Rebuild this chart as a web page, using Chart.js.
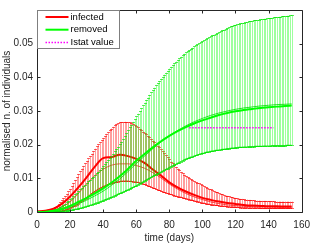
<!DOCTYPE html>
<html>
<head>
<meta charset="utf-8">
<script src="https://cdn.jsdelivr.net/npm/chart.js@4.4.1/dist/chart.umd.min.js"></script>
<style>
  html, body { margin: 0; padding: 0; background: #fff; }
  canvas { display: block; }
</style>
</head>
<body>
<canvas id="chart" width="317" height="244"></canvas>
<script>
// --- Data ---
const seriesLabels = ['infected', 'removed', 'Istat value'];

// daily samples used for the error bars (day 0 .. 154)
const errDays = Array.from({ length: 155 }, (_, i) => i);

const infectedHigh = [
    0.0003, 0.0003, 0.0004, 0.0004, 0.0005, 0.0006, 0.0007, 0.0008, 0.0009, 0.0010, 0.0012,
    0.0015, 0.0019, 0.0024, 0.0029, 0.0035, 0.0041, 0.0047, 0.0054, 0.0061, 0.0068,
    0.0077, 0.0086, 0.0095, 0.0104, 0.0113, 0.0121, 0.0129, 0.0137, 0.0145, 0.0152,
    0.0159, 0.0166, 0.0173, 0.0181, 0.0188, 0.0195, 0.0201, 0.0207, 0.0214, 0.0220,
    0.0226, 0.0232, 0.0237, 0.0243, 0.0248, 0.0253, 0.0258, 0.0262, 0.0264, 0.0266,
    0.0267, 0.0267, 0.0268, 0.0267, 0.0267, 0.0266, 0.0264, 0.0262, 0.0258, 0.0254,
    0.0251, 0.0247, 0.0243, 0.0239, 0.0235, 0.0231, 0.0226, 0.0222, 0.0217, 0.0212,
    0.0207, 0.0202, 0.0197, 0.0192, 0.0186, 0.0180, 0.0174, 0.0168, 0.0162, 0.0156,
    0.0150, 0.0145, 0.0139, 0.0134, 0.0129, 0.0124, 0.0119, 0.0115, 0.0111, 0.0107,
    0.0104, 0.0101, 0.0098, 0.0095, 0.0092, 0.0089, 0.0087, 0.0085, 0.0082, 0.0080,
    0.0077, 0.0074, 0.0072, 0.0069, 0.0067, 0.0065, 0.0062, 0.0060, 0.0058, 0.0056,
    0.0054, 0.0052, 0.0051, 0.0049, 0.0048, 0.0047, 0.0045, 0.0044, 0.0043, 0.0042,
    0.0041, 0.0040, 0.0039, 0.0039, 0.0038, 0.0037, 0.0037, 0.0036, 0.0036, 0.0035,
    0.0035, 0.0034, 0.0034, 0.0034, 0.0033, 0.0033, 0.0033, 0.0033, 0.0032, 0.0032,
    0.0032, 0.0032, 0.0032, 0.0031, 0.0031, 0.0031, 0.0031, 0.0031, 0.0031, 0.0031,
    0.0031, 0.0031, 0.0031, 0.0031
];
const infectedLow = [
    0, 0, 0, 0, 0, 0, 0.0001, 0.0001, 0.0001, 0.0001, 0.0001,
    0.0002, 0.0002, 0.0003, 0.0003, 0.0004, 0.0005, 0.0006, 0.0008, 0.0010, 0.0012,
    0.0014, 0.0017, 0.0019, 0.0022, 0.0025, 0.0029, 0.0032, 0.0036, 0.0039, 0.0043,
    0.0047, 0.0051, 0.0055, 0.0058, 0.0062, 0.0065, 0.0068, 0.0071, 0.0073, 0.0076,
    0.0078, 0.0080, 0.0082, 0.0084, 0.0086, 0.0087, 0.0088, 0.0089, 0.0090, 0.0091,
    0.0091, 0.0092, 0.0092, 0.0092, 0.0092, 0.0091, 0.0091, 0.0090, 0.0090, 0.0089,
    0.0088, 0.0086, 0.0085, 0.0083, 0.0082, 0.0080, 0.0078, 0.0076, 0.0074, 0.0072,
    0.0070, 0.0068, 0.0066, 0.0064, 0.0062, 0.0060, 0.0058, 0.0057, 0.0055, 0.0053,
    0.0052, 0.0050, 0.0049, 0.0047, 0.0046, 0.0045, 0.0044, 0.0042, 0.0041, 0.0040,
    0.0039, 0.0037, 0.0036, 0.0035, 0.0033, 0.0032, 0.0031, 0.0030, 0.0028, 0.0027,
    0.0026, 0.0025, 0.0024, 0.0023, 0.0022, 0.0022, 0.0021, 0.0020, 0.0020, 0.0019,
    0.0018, 0.0018, 0.0017, 0.0017, 0.0016, 0.0016, 0.0015, 0.0015, 0.0015, 0.0014,
    0.0014, 0.0014, 0.0013, 0.0013, 0.0013, 0.0013, 0.0013, 0.0012, 0.0012, 0.0012,
    0.0012, 0.0012, 0.0012, 0.0012, 0.0011, 0.0011, 0.0011, 0.0011, 0.0011, 0.0011,
    0.0011, 0.0011, 0.0011, 0.0011, 0.0011, 0.0011, 0.0011, 0.0011, 0.0011, 0.0011,
    0.0011, 0.0011, 0.0011, 0.0011
];
const removedHigh = [
    0, 0, 0, 0.0001, 0.0001, 0.0001, 0.0002, 0.0003, 0.0004, 0.0005, 0.0006,
    0.0008, 0.0010, 0.0012, 0.0015, 0.0018, 0.0021, 0.0025, 0.0029, 0.0033, 0.0038,
    0.0043, 0.0047, 0.0052, 0.0057, 0.0062, 0.0067, 0.0072, 0.0076, 0.0081, 0.0086,
    0.0091, 0.0096, 0.0100, 0.0105, 0.0110, 0.0115, 0.0120, 0.0126, 0.0131, 0.0136,
    0.0142, 0.0148, 0.0154, 0.0160, 0.0166, 0.0173, 0.0180, 0.0187, 0.0194, 0.0201,
    0.0209, 0.0217, 0.0226, 0.0234, 0.0243, 0.0251, 0.0259, 0.0268, 0.0276, 0.0284,
    0.0292, 0.0300, 0.0309, 0.0317, 0.0325, 0.0333, 0.0340, 0.0348, 0.0355, 0.0362,
    0.0369, 0.0376, 0.0383, 0.0389, 0.0396, 0.0402, 0.0408, 0.0414, 0.0420, 0.0426,
    0.0431, 0.0437, 0.0442, 0.0447, 0.0452, 0.0456, 0.0461, 0.0465, 0.0470, 0.0474,
    0.0478, 0.0481, 0.0485, 0.0488, 0.0492, 0.0495, 0.0498, 0.0501, 0.0504, 0.0507,
    0.0510, 0.0513, 0.0516, 0.0519, 0.0522, 0.0525, 0.0527, 0.0530, 0.0532, 0.0535,
    0.0537, 0.0540, 0.0542, 0.0545, 0.0547, 0.0549, 0.0551, 0.0553, 0.0555, 0.0556,
    0.0557, 0.0559, 0.0560, 0.0561, 0.0562, 0.0563, 0.0564, 0.0566, 0.0567, 0.0568,
    0.0569, 0.0569, 0.0570, 0.0571, 0.0572, 0.0573, 0.0574, 0.0574, 0.0575, 0.0576,
    0.0576, 0.0577, 0.0578, 0.0578, 0.0579, 0.0580, 0.0580, 0.0581, 0.0581, 0.0582,
    0.0583, 0.0583, 0.0584, 0.0585
];
const removedLow = [
    0, 0, 0, 0, 0, 0, 0, 0.0001, 0.0001, 0.0001, 0.0001,
    0.0001, 0.0002, 0.0002, 0.0002, 0.0003, 0.0003, 0.0003, 0.0004, 0.0004, 0.0005,
    0.0006, 0.0007, 0.0008, 0.0009, 0.0010, 0.0011, 0.0012, 0.0014, 0.0015, 0.0017,
    0.0018, 0.0020, 0.0021, 0.0023, 0.0025, 0.0027, 0.0028, 0.0030, 0.0032, 0.0034,
    0.0036, 0.0038, 0.0040, 0.0042, 0.0044, 0.0046, 0.0048, 0.0050, 0.0053, 0.0055,
    0.0057, 0.0059, 0.0061, 0.0064, 0.0066, 0.0068, 0.0071, 0.0073, 0.0076, 0.0078,
    0.0081, 0.0084, 0.0086, 0.0089, 0.0092, 0.0095, 0.0098, 0.0100, 0.0103, 0.0106,
    0.0109, 0.0111, 0.0114, 0.0116, 0.0119, 0.0122, 0.0124, 0.0127, 0.0129, 0.0132,
    0.0135, 0.0137, 0.0140, 0.0142, 0.0145, 0.0147, 0.0150, 0.0152, 0.0155, 0.0157,
    0.0159, 0.0161, 0.0163, 0.0164, 0.0166, 0.0168, 0.0170, 0.0171, 0.0173, 0.0174,
    0.0175, 0.0177, 0.0178, 0.0179, 0.0180, 0.0181, 0.0182, 0.0183, 0.0183, 0.0184,
    0.0185, 0.0186, 0.0186, 0.0187, 0.0188, 0.0188, 0.0189, 0.0190, 0.0190, 0.0191,
    0.0191, 0.0192, 0.0192, 0.0192, 0.0193, 0.0193, 0.0193, 0.0194, 0.0194, 0.0194,
    0.0194, 0.0195, 0.0195, 0.0195, 0.0195, 0.0195, 0.0196, 0.0196, 0.0196, 0.0196,
    0.0196, 0.0197, 0.0197, 0.0197, 0.0197, 0.0197, 0.0197, 0.0197, 0.0197, 0.0197,
    0.0198, 0.0198, 0.0198, 0.0198
];

// mean / median curves, sampled every 5 days
const lineDays = [0, 5, 10, 15, 20, 25, 30, 35, 40, 45, 50, 55, 60, 65, 70, 75, 80, 85,
    90, 95, 100, 105, 110, 115, 120, 125, 130, 135, 140, 145, 150, 154];
const infectedMean = [0.0002, 0.0004, 0.0010, 0.0024, 0.0046, 0.0073, 0.0103, 0.0135, 0.0160, 0.0163,
    0.0170, 0.0166, 0.0158, 0.0146, 0.0126, 0.0108, 0.0088, 0.0073, 0.0061, 0.0051, 0.0042,
    0.0036, 0.0031, 0.0027, 0.0024, 0.0021, 0.0019, 0.0018, 0.0017, 0.0017, 0.0016, 0.0016];
const infectedMedian = [0, 0.0002, 0.0006, 0.0015, 0.0030, 0.0055, 0.0083, 0.0108, 0.0127, 0.0139,
    0.0143, 0.0143, 0.0138, 0.0130, 0.0117, 0.0101, 0.0083, 0.0068, 0.0055, 0.0045, 0.0037,
    0.0030, 0.0025, 0.0021, 0.0019, 0.0017, 0.0016, 0.0015, 0.0015, 0.0014, 0.0014, 0.0014];
const removedMean = [0, 0.0001, 0.0004, 0.0009, 0.0018, 0.0030, 0.0042, 0.0055, 0.0070, 0.0087,
    0.0106, 0.0128, 0.0152, 0.0172, 0.0192, 0.0210, 0.0226, 0.0240, 0.0252, 0.0263, 0.0272,
    0.0280, 0.0288, 0.0294, 0.0299, 0.0303, 0.0306, 0.0309, 0.0311, 0.0313, 0.0315, 0.0316];
const removedMedian = [0, 0.0001, 0.0003, 0.0007, 0.0014, 0.0024, 0.0035, 0.0048, 0.0062, 0.0079,
    0.0098, 0.0120, 0.0144, 0.0166, 0.0188, 0.0208, 0.0226, 0.0242, 0.0256, 0.0268, 0.0278,
    0.0287, 0.0294, 0.0300, 0.0305, 0.0309, 0.0312, 0.0315, 0.0317, 0.0319, 0.0320, 0.0321];

const istatDays = [92, 143];
const istatValue = [0.025, 0.025];

const xTicks = [0, 20, 40, 60, 80, 100, 120, 140, 160];
const yTicks = [0, 0.01, 0.02, 0.03, 0.04, 0.05];

// --- Helpers ---
const toPoints = (xs, ys) => xs.map((x, i) => ({ x, y: ys[i] }));
const axisColor = '#262626';
Chart.defaults.font.family = '"Liberation Sans", Arial, Helvetica, sans-serif';
Chart.defaults.font.size = 10;
Chart.defaults.color = axisColor;

// error bars drawn under the dataset that owns them
const errorBarPlugin = {
    id: 'errorBars',
    beforeDatasetDraw(chart, args) {
        const ds = chart.data.datasets[args.index];
        if (!ds.errHigh) return;
        const { ctx, chartArea: a, scales: { x, y } } = chart;
        ctx.save();
        ctx.beginPath();
        ctx.rect(a.left, a.top, a.right - a.left, a.bottom - a.top);
        ctx.clip();
        ctx.lineWidth = 1;
        ctx.strokeStyle = ds.barColor;
        ctx.beginPath();
        ds.data.forEach((p, i) => {
            const px = Math.round(x.getPixelForValue(p.x)) + 0.5;
            ctx.moveTo(px, y.getPixelForValue(p.y));
            ctx.lineTo(px, y.getPixelForValue(ds.errHigh[i]));
        });
        ctx.stroke();
        ctx.strokeStyle = ds.capColor;
        ctx.beginPath();
        ds.data.forEach((p, i) => {
            const px = Math.round(x.getPixelForValue(p.x)) + 0.5;
            const top = Math.round(y.getPixelForValue(ds.errHigh[i])) + 0.5;
            const bot = Math.round(y.getPixelForValue(p.y)) + 0.5;
            ctx.moveTo(px - 1.5, top); ctx.lineTo(px + 1.5, top);
            ctx.moveTo(px - 1.5, bot); ctx.lineTo(px + 1.5, bot);
        });
        ctx.stroke();
        ctx.restore();
    }
};

// matlab-like box with inward ticks on all four sides
const boxPlugin = {
    id: 'axesBox',
    afterDatasetsDraw(chart) {
        const { ctx, chartArea: a, scales: { x, y } } = chart;
        const L = Math.round(a.left) + 0.5, R = Math.round(a.right) + 0.5;
        const T = Math.round(a.top) + 0.5, B = Math.round(a.bottom) + 0.5;
        ctx.save();
        ctx.strokeStyle = axisColor;
        ctx.lineWidth = 1;
        ctx.beginPath();
        ctx.rect(L, T, R - L, B - T);
        xTicks.forEach(v => {
            const px = Math.round(x.getPixelForValue(v)) + 0.5;
            ctx.moveTo(px, B); ctx.lineTo(px, B - 3);
            ctx.moveTo(px, T); ctx.lineTo(px, T + 3);
        });
        yTicks.forEach(v => {
            const py = Math.round(y.getPixelForValue(v)) + 0.5;
            ctx.moveTo(L, py); ctx.lineTo(L + 3, py);
            ctx.moveTo(R, py); ctx.lineTo(R - 3, py);
        });
        ctx.stroke();
        ctx.restore();
    }
};

// boxed legend in the upper left corner of the axes
const legendPlugin = {
    id: 'boxLegend',
    afterDraw(chart) {
        const { ctx, chartArea: a } = chart;
        const x0 = Math.round(a.left) + 0.5, y0 = Math.round(a.top) + 0.5;
        const w = 82, h = 38;
        const styles = [
            { color: '#ff0000', width: 2, dash: [] },
            { color: '#00ff00', width: 2, dash: [] },
            { color: '#ff00ff', width: 1.5, dash: [1.5, 1.5] }
        ];
        ctx.save();
        ctx.fillStyle = '#fff';
        ctx.fillRect(x0, y0, w, h);
        ctx.strokeStyle = '#7f7f7f';
        ctx.lineWidth = 1;
        ctx.strokeRect(x0, y0, w, h);
        ctx.font = '9.5px "Liberation Sans", Arial, sans-serif';
        ctx.textBaseline = 'middle';
        ctx.fillStyle = '#000';
        seriesLabels.forEach((label, i) => {
            const yy = y0 + 6.5 + i * 12.7;
            const s = styles[i];
            ctx.strokeStyle = s.color;
            ctx.lineWidth = s.width;
            ctx.setLineDash(s.dash);
            ctx.beginPath();
            ctx.moveTo(x0 + 8, yy);
            ctx.lineTo(x0 + 31, yy);
            ctx.stroke();
            ctx.setLineDash([]);
            ctx.fillText(label, x0 + 33, yy);
        });
        ctx.restore();
    }
};

// --- Chart ---
const datasets = [
    {
        label: 'infected spread',
        data: toPoints(errDays, infectedLow),
        errHigh: infectedHigh,
        barColor: 'rgba(255,0,0,0.38)',
        capColor: 'rgba(255,0,0,0.6)',
        borderColor: 'rgba(255,0,0,0.8)',
        borderWidth: 1,
        pointRadius: 0,
        order: 7
    },
    {
        label: 'infected median',
        data: toPoints(lineDays, infectedMedian),
        borderColor: 'rgba(255,0,0,0.7)',
        borderWidth: 1,
        pointRadius: 0,
        cubicInterpolationMode: 'monotone',
        order: 6
    },
    {
        label: seriesLabels[0],
        data: toPoints(lineDays, infectedMean),
        borderColor: '#ff0000',
        borderWidth: 2,
        pointRadius: 0,
        cubicInterpolationMode: 'monotone',
        order: 5
    },
    {
        label: 'removed spread',
        data: toPoints(errDays, removedLow),
        errHigh: removedHigh,
        barColor: 'rgba(0,255,0,0.38)',
        capColor: 'rgba(0,230,0,0.65)',
        borderColor: 'rgba(0,230,0,0.85)',
        borderWidth: 1.2,
        pointRadius: 0,
        order: 4
    },
    {
        label: 'removed median',
        data: toPoints(lineDays, removedMedian),
        borderColor: 'rgba(0,220,0,0.8)',
        borderWidth: 1,
        pointRadius: 0,
        cubicInterpolationMode: 'monotone',
        order: 3
    },
    {
        label: seriesLabels[1],
        data: toPoints(lineDays, removedMean),
        borderColor: '#00ff00',
        borderWidth: 2,
        pointRadius: 0,
        cubicInterpolationMode: 'monotone',
        order: 2
    },
    {
        label: seriesLabels[2],
        data: toPoints(istatDays, istatValue),
        borderColor: '#ff00ff',
        borderWidth: 1.5,
        borderDash: [1.5, 1.5],
        pointRadius: 0,
        order: 1
    }
];

new Chart(document.getElementById('chart').getContext('2d'), {
    type: 'line',
    data: { datasets },
    options: {
        responsive: false,
        animation: false,
        devicePixelRatio: 1,
        layout: { padding: { top: 1, right: 8, left: 0, bottom: 0 } },
        plugins: { legend: { display: false }, tooltip: { enabled: false } },
        scales: {
            x: {
                type: 'linear',
                min: 0,
                max: 160,
                grid: { display: false, drawTicks: false },
                border: { display: false },
                ticks: { stepSize: 20, padding: 7, maxRotation: 0, color: axisColor },
                title: { display: true, text: 'time (days)', padding: { top: 0, bottom: 0 }, color: axisColor },
                afterFit: (scale) => { scale.height = 32; }
            },
            y: {
                min: 0,
                max: 0.06,
                grid: { display: false, drawTicks: false },
                border: { display: false },
                ticks: {
                    stepSize: 0.01,
                    padding: 4,
                    color: axisColor,
                    callback: (v) => (v > 0.0595 ? '' : String(+v.toFixed(2)))
                },
                title: { display: true, text: 'normalised n. of individuals', padding: { top: 1, bottom: 0 }, color: axisColor },
                afterFit: (scale) => { scale.width = 37; }
            }
        }
    },
    plugins: [errorBarPlugin, boxPlugin, legendPlugin]
});
</script>
</body>
</html>
